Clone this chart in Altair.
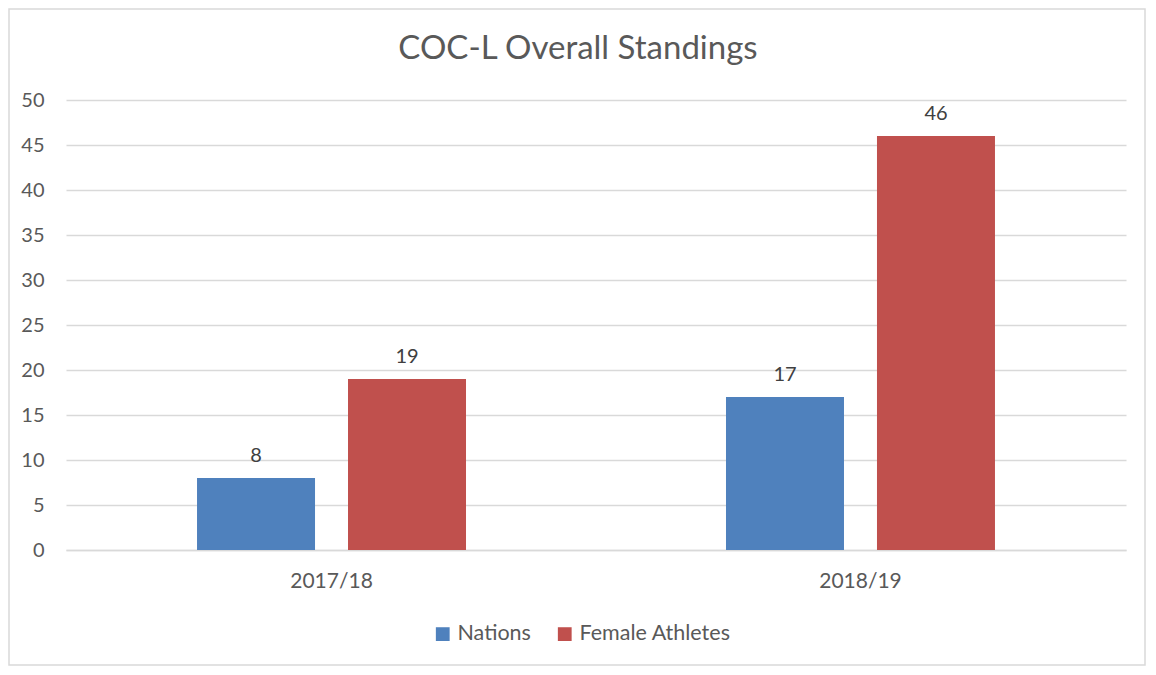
import altair as alt
import pandas as pd

seasons = ["2017/18", "2017/18", "2018/19", "2018/19"]
series = ["Nations", "Female Athletes", "Nations", "Female Athletes"]
values = [8, 19, 17, 46]
series_order = ["Nations", "Female Athletes"]
colors = ["#4F81BD", "#C0504D"]

df = pd.DataFrame({"season": seasons, "series": series, "value": values})

FONT = "Lato"
TXT = "#595959"

x_enc = alt.X("season:N", title=None,
              scale=alt.Scale(paddingInner=0.4915, paddingOuter=0.2477),
              axis=alt.Axis(labelAngle=0, labelFontSize=21, labelColor=TXT, labelFont=FONT,
                            ticks=False, domainColor="#D9D9D9", domainWidth=1.5, labelPadding=20))
xoff = alt.XOffset("series:N", sort=series_order, scale=alt.Scale(paddingInner=0.2185, paddingOuter=0))

base = alt.Chart(df).encode(x=x_enc, xOffset=xoff)

bars = base.mark_bar().encode(
    y=alt.Y("value:Q", title=None,
            scale=alt.Scale(domain=[0, 50]),
            axis=alt.Axis(values=list(range(0, 51, 5)), labelFontSize=20, labelColor=TXT, labelFont=FONT,
                          ticks=False, domain=False, gridColor="#D9D9D9", gridWidth=1.5, labelPadding=22)),
    color=alt.Color("series:N", sort=series_order,
                    scale=alt.Scale(domain=series_order, range=colors),
                    legend=alt.Legend(title=None, orient="none", direction="horizontal",
                                      legendX=366, legendY=523, symbolType="square", symbolSize=190,
                                      symbolStrokeWidth=0, labelFontSize=21.5, labelColor=TXT,
                                      labelFont=FONT, columnPadding=23, labelOffset=4)),
)

labels = base.mark_text(fontSize=20, font=FONT, color="#404040", baseline="alphabetic", dy=-16).encode(
    y="value:Q", text="value:Q"
)

frame = alt.Chart(pd.DataFrame({"a": [0]})).mark_rect(fill=None, stroke="#D9D9D9", strokeWidth=1.5).encode(
    x=alt.value(-57), x2=alt.value(1079), y=alt.value(-91), y2=alt.value(565)
)

chart = alt.layer(frame, bars, labels).properties(
    width=1060, height=450,
    autosize=alt.AutoSizeParams(type="none"),
    padding={"left": 58, "top": 92, "right": 22, "bottom": 117},
    title=alt.TitleParams("COC-L Overall Standings", fontSize=33, font=FONT, color=TXT,
                          fontWeight="normal", anchor="middle", dx=-18, offset=-58),
).configure_view(stroke=None)

chart.save("out.html", embed_options={"renderer": "svg", "actions": False})
